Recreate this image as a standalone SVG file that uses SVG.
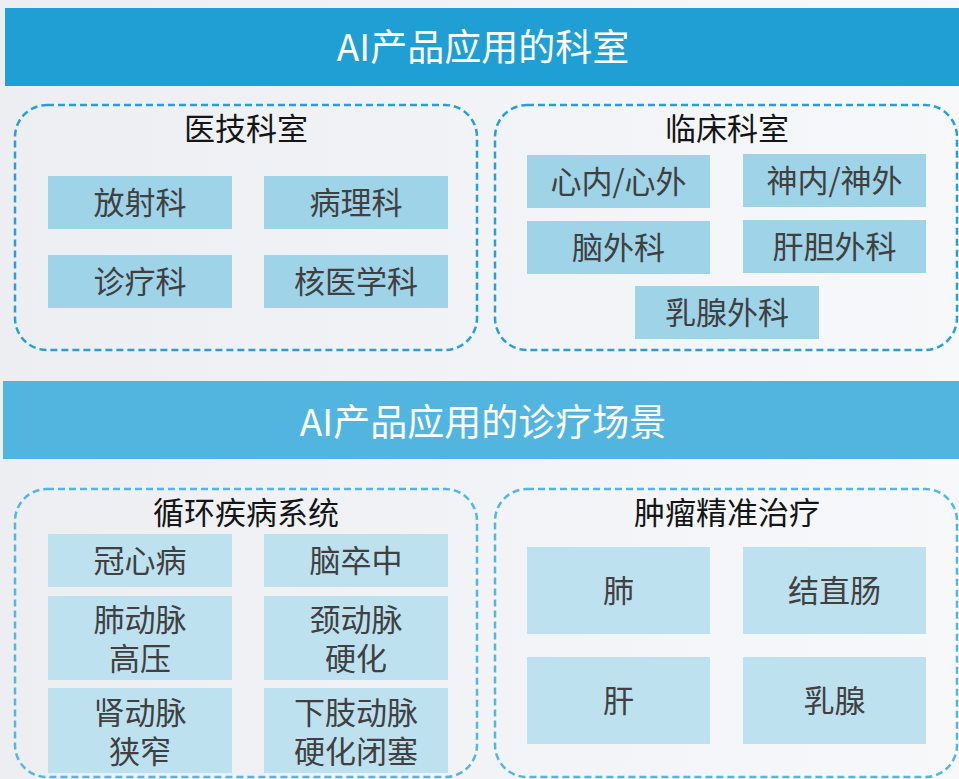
<svg xmlns="http://www.w3.org/2000/svg" width="959" height="779" viewBox="0 0 959 779">
<defs>
<linearGradient id="bg" x1="0" y1="0" x2="1" y2="0">
<stop offset="0" stop-color="#ECEEF2"/>
<stop offset="1" stop-color="#F7F8FA"/>
</linearGradient>
</defs>
<style>
text{font-family:"Noto Sans CJK SC","Noto Sans",sans-serif;text-anchor:middle;dominant-baseline:central}
.hdr{font-size:37px;fill:#FFFFFF}
.ttl{font-size:31px;fill:#151515}
.grp{fill:none;stroke-width:2.5;stroke-dasharray:7 4}
.g1{stroke:#2A9FD6}
.g2{stroke:#55B6E0}
.n1{fill:#9FD3E8}
.n2{fill:#BEE1F0}
.nt{font-size:31px;fill:#404040}
</style>
<rect width="959" height="779" fill="url(#bg)"/>

<g id="header1">
<rect x="5" y="8" width="954" height="78" fill="#1F9FD3"/>
<text class="hdr" x="483" y="45">AI产品应用的科室</text>
</g>

<g id="group-yiji">
<rect class="grp g1" x="15" y="105" width="462" height="245" rx="32"/>
<text class="ttl" x="246" y="126">医技科室</text>
</g>
<g id="n-fangshe"><rect class="n1" x="48" y="176" width="184" height="53"/><text class="nt" x="140" y="200.5">放射科</text></g>
<g id="n-bingli"><rect class="n1" x="264" y="176" width="184" height="53"/><text class="nt" x="356" y="200.5">病理科</text></g>
<g id="n-zhenliao"><rect class="n1" x="48" y="255" width="184" height="53"/><text class="nt" x="140" y="279.5">诊疗科</text></g>
<g id="n-hexue"><rect class="n1" x="264" y="255" width="184" height="53"/><text class="nt" x="356" y="279.5">核医学科</text></g>

<g id="group-linchuang">
<rect class="grp g1" x="495" y="105" width="462" height="245" rx="32"/>
<text class="ttl" x="727" y="126">临床科室</text>
</g>
<g id="n-xin"><rect class="n1" x="527" y="155" width="183" height="53"/><text class="nt" x="618.5" y="179.5">心内/心外</text></g>
<g id="n-shen"><rect class="n1" x="743" y="154" width="183" height="53"/><text class="nt" x="834.5" y="178.5">神内/神外</text></g>
<g id="n-naowai"><rect class="n1" x="527" y="221" width="183" height="53"/><text class="nt" x="618.5" y="245.5">脑外科</text></g>
<g id="n-gandan"><rect class="n1" x="743" y="220" width="183" height="53"/><text class="nt" x="834.5" y="244.5">肝胆外科</text></g>
<g id="n-ruxian"><rect class="n1" x="635" y="286" width="184" height="53"/><text class="nt" x="727" y="310.5">乳腺外科</text></g>

<g id="header2">
<rect x="3" y="381" width="956" height="78" fill="#52B5DF"/>
<text class="hdr" x="483" y="420">AI产品应用的诊疗场景</text>
</g>

<g id="group-xunhuan">
<rect class="grp g2" x="15" y="489" width="462" height="288" rx="32"/>
<text class="ttl" x="246" y="510.5">循环疾病系统</text>
</g>
<g id="n-guanxin"><rect class="n2" x="48" y="534" width="184" height="53"/><text class="nt" x="140" y="558.5">冠心病</text></g>
<g id="n-naocu"><rect class="n2" x="264" y="534" width="184" height="53"/><text class="nt" x="356" y="558.5">脑卒中</text></g>
<g id="n-feidongmai"><rect class="n2" x="48" y="596" width="184" height="84"/><text class="nt" x="140" y="617">肺动脉</text><text class="nt" x="140" y="656">高压</text></g>
<g id="n-jingdongmai"><rect class="n2" x="264" y="596" width="184" height="84"/><text class="nt" x="356" y="617">颈动脉</text><text class="nt" x="356" y="656">硬化</text></g>
<g id="n-shendongmai"><rect class="n2" x="48" y="688" width="184" height="85"/><text class="nt" x="140" y="710">肾动脉</text><text class="nt" x="140" y="749">狭窄</text></g>
<g id="n-xiazhi"><rect class="n2" x="264" y="688" width="184" height="85"/><text class="nt" x="356" y="710">下肢动脉</text><text class="nt" x="356" y="749">硬化闭塞</text></g>

<g id="group-zhongliu">
<rect class="grp g2" x="495" y="489" width="462" height="288" rx="32"/>
<text class="ttl" x="727" y="510.5">肿瘤精准治疗</text>
</g>
<g id="n-fei"><rect class="n2" x="527" y="547" width="183" height="87"/><text class="nt" x="618.5" y="588.5">肺</text></g>
<g id="n-jiezhichang"><rect class="n2" x="743" y="547" width="183" height="87"/><text class="nt" x="834.5" y="588.5">结直肠</text></g>
<g id="n-gan"><rect class="n2" x="527" y="657" width="183" height="87"/><text class="nt" x="618.5" y="698.5">肝</text></g>
<g id="n-ruxian2"><rect class="n2" x="743" y="657" width="183" height="87"/><text class="nt" x="834.5" y="698.5">乳腺</text></g>

<g id="connectors"></g>
</svg>
